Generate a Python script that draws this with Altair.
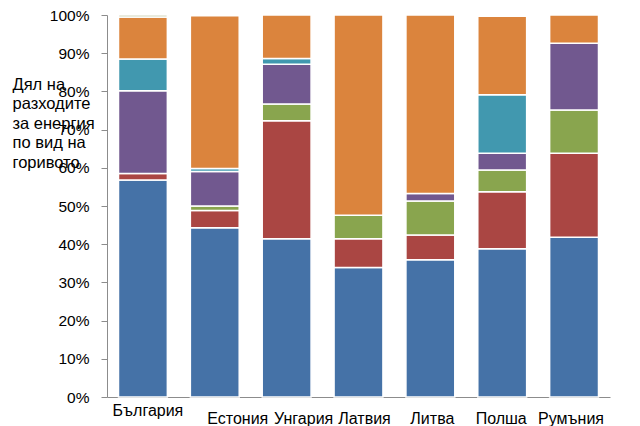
import altair as alt
import pandas as pd

countries = ["България", "Естония", "Унгария", "Латвия", "Литва", "Полша", "Румъния"]
series = ["Електроенергия", "Природен газ", "Втечнен газ", "Дърва", "Въглища", "Топлоенергия", "Други"]
colors = ["#4572A7", "#AA4643", "#89A54E", "#71588F", "#4198AF", "#DB843D", "#A4AE7A"]

# values per series (percent), in the order of countries
s_electricity = [56.8, 44.3, 41.4, 33.9, 35.9, 38.8, 41.8]
s_gas         = [1.7, 4.5, 30.9, 7.5, 6.5, 14.9, 22.0]
s_lpg         = [0.0, 1.2, 4.4, 6.2, 8.9, 5.7, 11.3]
s_wood        = [21.7, 9.0, 10.4, 0.0, 2.0, 4.4, 17.5]
s_coal        = [8.3, 0.8, 1.5, 0.0, 0.0, 15.3, 0.0]
s_heat        = [11.0, 40.0, 11.4, 52.4, 46.7, 20.6, 7.4]
s_other       = [0.5, 0.0, 0.0, 0.0, 0.0, 0.0, 0.0]

all_series = [s_electricity, s_gas, s_lpg, s_wood, s_coal, s_heat, s_other]

rows = []
for si, (name, vals) in enumerate(zip(series, all_series)):
    for c, v in zip(countries, vals):
        if v > 0:
            rows.append({"country": c, "series": name, "order": si, "value": v})
df = pd.DataFrame(rows)

label_offsets = [5, 23, 17, 6, 2, -1, -3]
offset_cond = [
    {"test": f"datum.value === '{c}'", "value": o}
    for c, o in zip(countries, label_offsets)
]

chart = alt.Chart(df).mark_bar(
    stroke="white", strokeWidth=1.5
).encode(
    x=alt.X(
        "country:N",
        sort=countries,
        scale=alt.Scale(paddingInner=0.32, paddingOuter=0.16),
        axis=alt.Axis(
            title=None,
            labelAngle=0,
            ticks=False,
            domainColor="#8c8c8c",
            labelFont="Liberation Sans",
            labelFontSize=16,
            labelColor="#000000",
            labelBaseline="top",
            labelPadding=alt.ConditionalAxisNumber(
                condition={"test": "datum.value === 'България'", "value": 5},
                value=13,
            ),
            labelOffset=alt.ConditionalAxisNumber(condition=offset_cond, value=0),
        ),
    ),
    y=alt.Y(
        "value:Q",
        stack="zero",
        scale=alt.Scale(domain=[0, 100], nice=False),
        axis=alt.Axis(
            values=[0, 10, 20, 30, 40, 50, 60, 70, 80, 90, 100],
            labelExpr="datum.value + '%'",
            grid=False,
            tickSize=6,
            tickColor="#8c8c8c",
            domainColor="#8c8c8c",
            labelPadding=12,
            labelFont="Liberation Sans",
            labelFontSize=15.5,
            labelColor="#000000",
            title=["Дял на", "разходите", "за енергия", "по вид на", "горивото"],
            titleAngle=0,
            titleAlign="left",
            titleBaseline="top",
            titleX=-95,
            titleY=61,
            titleFont="Liberation Sans",
            titleFontSize=16.5,
            titleFontWeight="normal",
            titleColor="#000000",
            titleLineHeight=19.5,
        ),
    ),
    color=alt.Color(
        "series:N",
        scale=alt.Scale(domain=series, range=colors),
        legend=None,
    ),
    order=alt.Order("order:Q", sort="ascending"),
).properties(
    width=503,
    height=382,
    autosize=alt.AutoSizeParams(type="none"),
    padding={"left": 99, "top": 7, "right": 22, "bottom": 29},
).configure_view(stroke=None)

chart.save("out.html", embed_options={"renderer": "svg", "actions": False})
